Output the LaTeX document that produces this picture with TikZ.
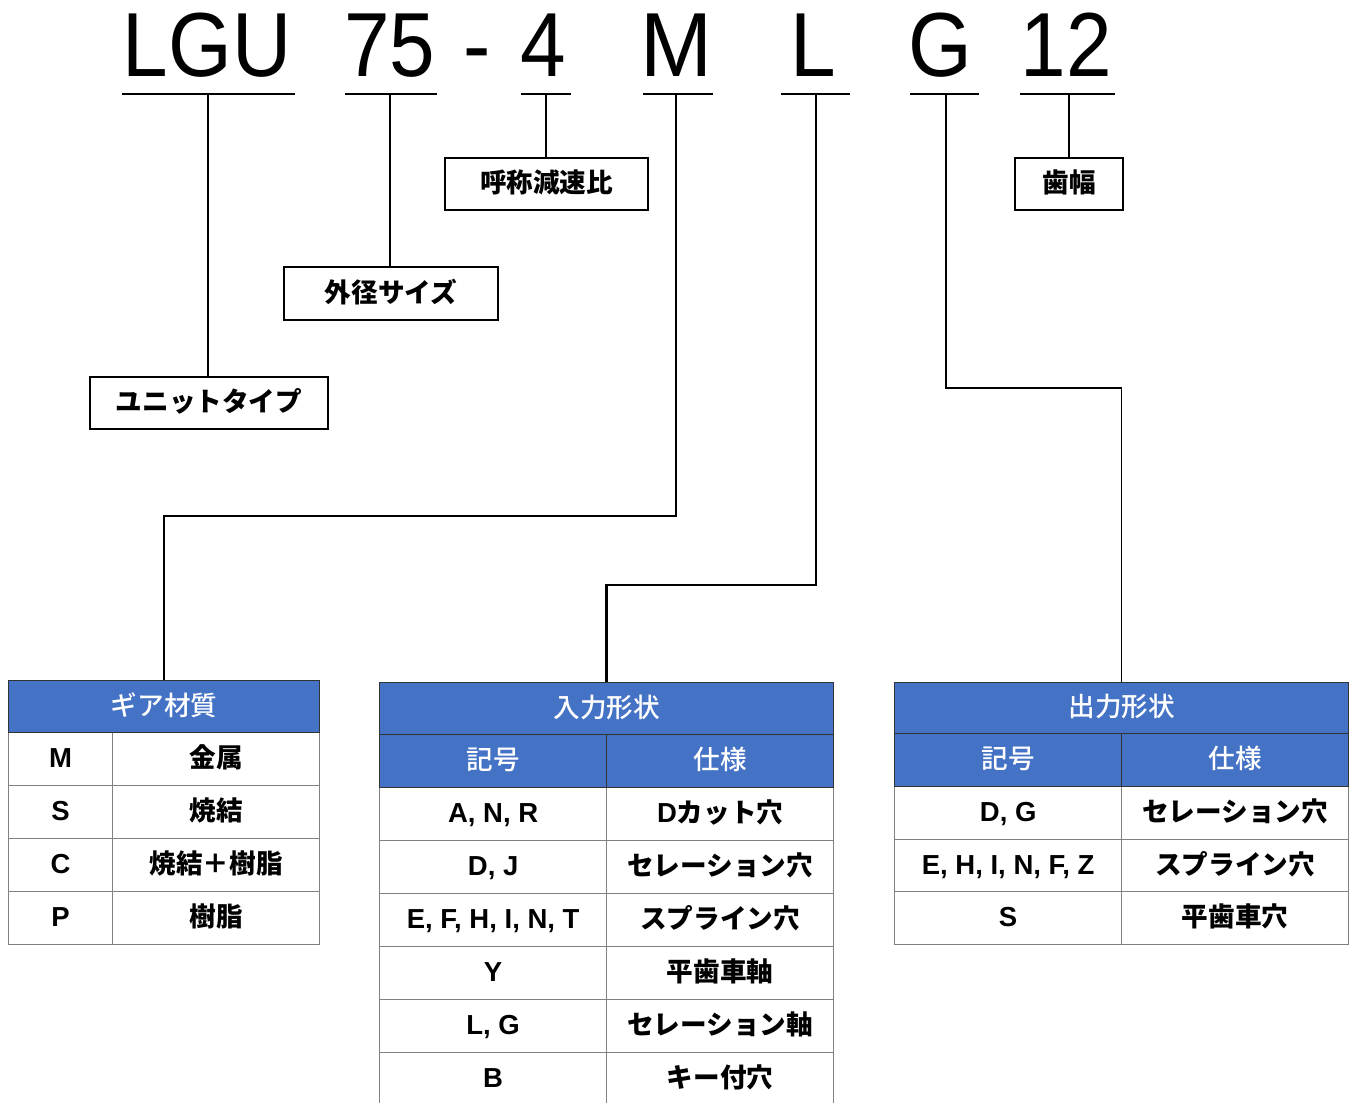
\documentclass[tikz,border=0pt]{standalone}
\usepackage{fontspec}
\setmainfont{Liberation Sans}
\newfontfamily\jp{Noto Sans CJK JP}
\newfontfamily\jpm{Noto Sans CJK JP Medium}
\definecolor{hdr}{HTML}{4472C4}
\definecolor{gridc}{HTML}{808080}
\newcommand{\ja}[1]{{\jp\bfseries\fontsize{26.6}{26.6}\selectfont #1}}
\tikzset{
  code/.style={anchor=base, inner sep=0pt, font=\fontsize{91}{91}\selectfont},
  ul/.style={line width=1.5pt},
  conn/.style={line width=1.6pt},
  connthick/.style={line width=2.4pt},
  lbl/.style={draw, line width=1.6pt, inner sep=0pt, text height=19pt, text depth=2pt, font=\jp\bfseries\fontsize{26.6}{26.6}\selectfont},
  hcell/.style={draw=black!80, fill=hdr, text=white, line width=1.3pt, anchor=north west, inner sep=0pt, text height=19pt, text depth=2pt, font=\jpm\fontsize{26.6}{26.6}\selectfont},
  bcell/.style={draw=gridc, fill=white, line width=1.3pt, anchor=north west, inner sep=0pt, text height=19pt, text depth=2pt, font=\bfseries\fontsize{27.5}{27.5}\selectfont},
}
\newcommand{\xs}[1]{\scalebox{0.9}[1]{#1}}
\begin{document}
\begin{tikzpicture}[x=1pt,y=-1pt]
\useasboundingbox (0,0) rectangle (1356,1102);
% code letters
\node[code] (tLGU) at (207,77) {\xs{LGU}};
\node[code] (t75) at (390,77) {\xs{75}};
\node[code] (tdash) at (477,77) {\xs{-}};
\node[code] (t4) at (543,77) {\xs{4}};
\node[code] (tM) at (676,77) {\scalebox{0.95}[1]{M}};
\node[code] (tL) at (813,77) {\xs{L}};
\node[code] (tG) at (940,77) {\xs{G}};
\node[code] (t12) at (1066,77) {\xs{12}};
% underlines
\draw[ul] (122,94) -- (295,94);
\draw[ul] (345,94) -- (437,94);
\draw[ul] (521,94) -- (571,94);
\draw[ul] (643,94) -- (713,94);
\draw[ul] (781,94) -- (850,94);
\draw[ul] (910,94) -- (979,94);
\draw[ul] (1020,94) -- (1115,94);
\coordinate (cLGU) at (208,94);
\coordinate (c75) at (390,94);
\coordinate (c4) at (546,94);
\coordinate (cM) at (676,94);
\coordinate (cL) at (816,94);
\coordinate (cG) at (946,94);
\coordinate (c12) at (1069,94);
% label boxes
\node[lbl, minimum width=203, minimum height=52] (ratio) at (546.5,184) {呼称減速比};
\node[lbl, minimum width=108, minimum height=52] (width) at (1069,184) {歯幅};
\node[lbl, minimum width=214, minimum height=53] (size) at (391,293.5) {外径サイズ};
\node[lbl, minimum width=238, minimum height=52] (unit) at (209,403) {ユニットタイプ};
% table: gear material
\node[bcell, minimum width=104, minimum height=53] (gm1) at (8,732) {M};
\node[bcell, minimum width=207, minimum height=53] (gv1) at (112,732) {\ja{金属}};
\node[bcell, minimum width=104, minimum height=53] (gm2) at (8,785) {S};
\node[bcell, minimum width=207, minimum height=53] (gv2) at (112,785) {\ja{焼結}};
\node[bcell, minimum width=104, minimum height=53] (gm3) at (8,838) {C};
\node[bcell, minimum width=207, minimum height=53] (gv3) at (112,838) {\ja{焼結＋樹脂}};
\node[bcell, minimum width=104, minimum height=53] (gm4) at (8,891) {P};
\node[bcell, minimum width=207, minimum height=53] (gv4) at (112,891) {\ja{樹脂}};
\node[hcell, minimum width=311, minimum height=52] (gear) at (8,680) {ギア材質};
% table: input shape
\node[bcell, minimum width=227, minimum height=53] (im1) at (379,787) {A, N, R};
\node[bcell, minimum width=227, minimum height=53] (iv1) at (606,787) {D\ja{カット穴}};
\node[bcell, minimum width=227, minimum height=53] (im2) at (379,840) {D, J};
\node[bcell, minimum width=227, minimum height=53] (iv2) at (606,840) {\ja{セレーション穴}};
\node[bcell, minimum width=227, minimum height=53] (im3) at (379,893) {E, F, H, I, N, T};
\node[bcell, minimum width=227, minimum height=53] (iv3) at (606,893) {\ja{スプライン穴}};
\node[bcell, minimum width=227, minimum height=53] (im4) at (379,946) {Y};
\node[bcell, minimum width=227, minimum height=53] (iv4) at (606,946) {\ja{平歯車軸}};
\node[bcell, minimum width=227, minimum height=53] (im5) at (379,999) {L, G};
\node[bcell, minimum width=227, minimum height=53] (iv5) at (606,999) {\ja{セレーション軸}};
\node[bcell, minimum width=227, minimum height=53] (im6) at (379,1052) {B};
\node[bcell, minimum width=227, minimum height=53] (iv6) at (606,1052) {\ja{キー付穴}};
\node[hcell, minimum width=227, minimum height=53] (ish1) at (379,734) {記号};
\node[hcell, minimum width=227, minimum height=53] (ish2) at (606,734) {仕様};
\node[hcell, minimum width=454, minimum height=52] (inp) at (379,682) {入力形状};
% table: output shape
\node[bcell, minimum width=227, minimum height=53] (om1) at (894,786) {D, G};
\node[bcell, minimum width=227, minimum height=53] (ov1) at (1121,786) {\ja{セレーション穴}};
\node[bcell, minimum width=227, minimum height=52] (om2) at (894,839) {E, H, I, N, F, Z};
\node[bcell, minimum width=227, minimum height=52] (ov2) at (1121,839) {\ja{スプライン穴}};
\node[bcell, minimum width=227, minimum height=53] (om3) at (894,891) {S};
\node[bcell, minimum width=227, minimum height=53] (ov3) at (1121,891) {\ja{平歯車穴}};
\node[hcell, minimum width=227, minimum height=53] (osh1) at (894,733) {記号};
\node[hcell, minimum width=227, minimum height=53] (osh2) at (1121,733) {仕様};
\node[hcell, minimum width=454, minimum height=51] (outp) at (894,682) {出力形状};
% connectors
\draw[connthick] (cLGU) -- (cLGU |- unit.north);
\draw[conn] (c75) -- (c75 |- size.north);
\draw[conn] (c4) -- (c4 |- ratio.north);
\draw[conn] (c12) -- (c12 |- width.north);
\coordinate (mBend) at (676,516);
\draw[conn] (cM) -- (mBend) -| (gear.north);
\coordinate (lBend) at (816,585);
\draw[connthick] (cL) -- (lBend) -| (inp.north);
\coordinate (gBend) at (946,388);
\draw[conn] (cG) -- (gBend) -| (outp.north);
\end{tikzpicture}
\end{document}
